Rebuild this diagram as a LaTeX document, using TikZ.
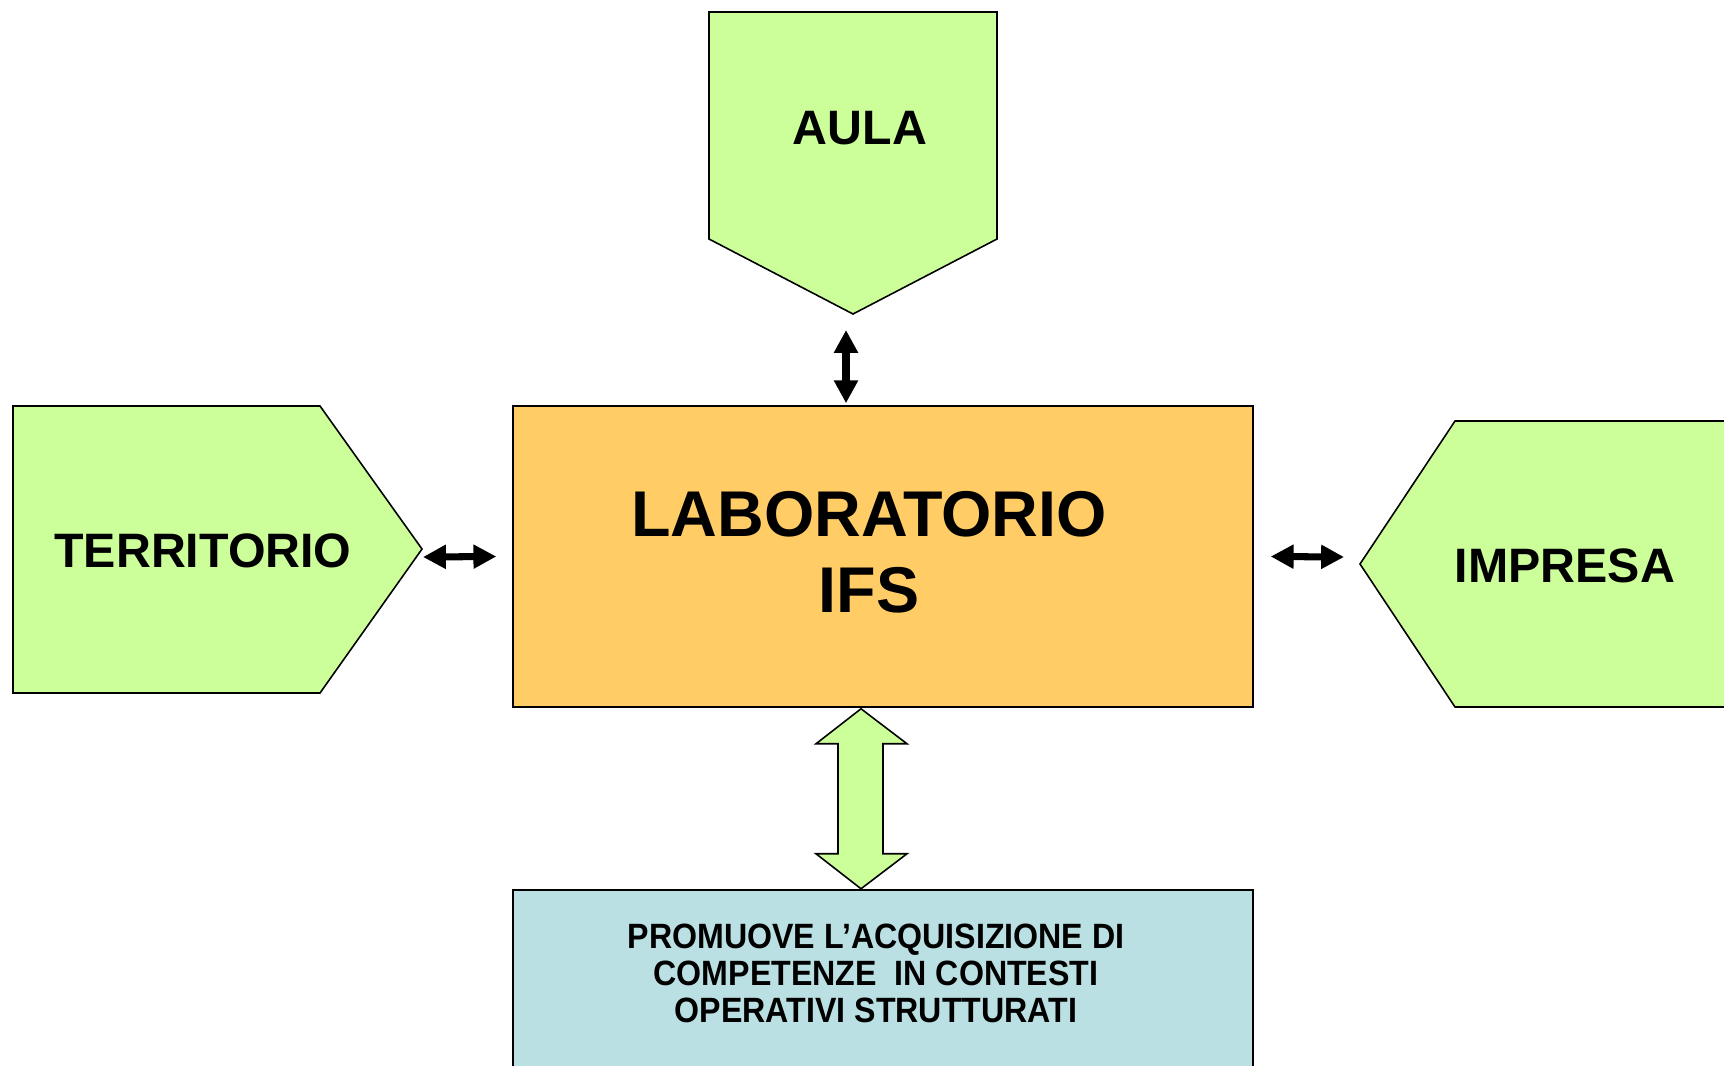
\documentclass[tikz,border=0pt]{standalone}
\usepackage{fontspec}
\setmainfont{Liberation Sans}
\newfontfamily\narrowfont[FakeStretch=0.915]{Liberation Sans}
\usetikzlibrary{arrows.meta}
\definecolor{verde}{HTML}{CCFF99}
\definecolor{arancio}{HTML}{FFCC66}
\definecolor{azzurro}{HTML}{BBE0E3}
\begin{document}
\begin{tikzpicture}[x=0.02cm,y=-0.02cm,
	forma/.style={draw=black, line width=0.9pt, line join=miter},
	duo/.style={line width=4pt, {Triangle[length=13pt,width=13pt]}-{Triangle[length=13pt,width=13pt]}},
	titolo/.style={font=\bfseries\fontsize{27.5}{33}\selectfont}]
		\clip (0,0) rectangle (1724,1065);
		\fill[white] (0,0) rectangle (1724,1065);
		\draw[forma, fill=verde] (709,12) -- (997,12) -- (997,239) -- (853,314) coordinate (aulatip) -- (709,239) -- cycle;
		\draw[forma, fill=verde] (13,406) -- (320,406) -- (422,549) coordinate (territip) -- (320,693) -- (13,693) -- cycle;
		\draw[forma, fill=verde] (1740,421) -- (1455,421) -- (1360,564) coordinate (impresatip) -- (1455,707) -- (1740,707) -- cycle;
		\node[forma, fill=arancio, minimum width=14.8cm, minimum height=6.02cm, inner sep=0] (lab) at (883,556.5) {};
		\node[forma, fill=azzurro, minimum width=14.8cm, minimum height=4cm, inner sep=0, anchor=north] (promuove) at (883,889) {};
		\node[titolo] (aula) at (860,128) {AULA};
		\node[titolo] (territorio) at (203,551) {TERRITORIO};
		\node[titolo] (impresa) at (1565,566) {IMPRESA};
		\node[font=\bfseries\fontsize{36.8}{43}\selectfont, align=center] (labtesto) at (869,552) {LABORATORIO\\IFS};
		\node[font=\narrowfont\bfseries\fontsize{20}{21}\selectfont, align=center] (promtesto) at (876,973) {PROMUOVE L’ACQUISIZIONE DI\\COMPETENZE\ \ IN CONTESTI\\OPERATIVI STRUTTURATI};
		\draw[duo] ([shift={(-7,16)}]aulatip) -- ([shift={(-37,-2)}]lab.north);
		\draw[duo] ([shift={(1,8)}]territip) -- ([shift={(-16,0)}]lab.west);
		\draw[duo] ([shift={(17,0)}]lab.east) -- ([shift={(-16,-7)}]impresatip);
		\draw[forma, fill=verde] ([shift={(-22,1)}]lab.south) coordinate (frtop) -- ++(46,35) -- ++(-24,0) -- ++(0,110) -- ++(24,0) -- ++(-46,35) -- ++(-45,-35) -- ++(22,0) -- ++(0,-110) -- ++(-22,0) -- cycle;
\end{tikzpicture}
\end{document}
